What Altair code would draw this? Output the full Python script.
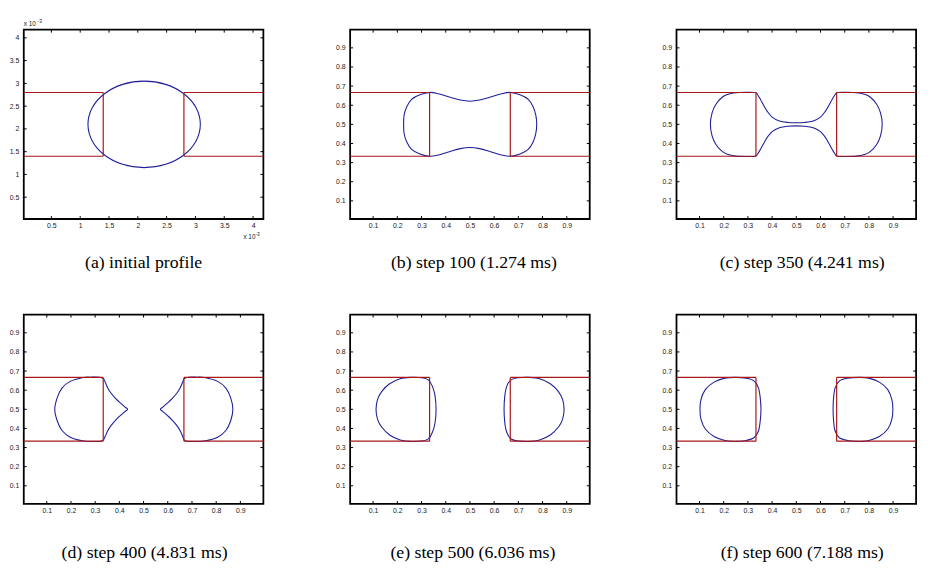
import altair as alt
import pandas as pd

BLUE = "#1f1f99"
RED = "#a81818"
LABEL_FONT = "Liberation Sans"
CAP_FONT = "Liberation Serif, DejaVu Serif, serif"

# ---------------- data ----------------
# channel walls (unit panels b-f)
wall_x = [0.0, 0.3333, 0.0, 1.0, 0.6667, 1.0]
wall_x2 = [0.3333, 0.3333, 0.3333, 0.6667, 0.6667, 0.6667]
wall_y = [0.6667, 0.6667, 0.3333, 0.6667, 0.6667, 0.3333]
wall_y2 = [0.6667, 0.3333, 0.3333, 0.6667, 0.3333, 0.3333]

# channel walls for panel (a), in units of 1e-3
a_wall_x = [0.0, 1.4, 0.0, 4.2, 2.8, 4.2]
a_wall_x2 = [1.4, 1.4, 1.4, 2.8, 2.8, 2.8]
a_wall_y = [2.8, 2.8, 1.4, 2.8, 2.8, 1.4]
a_wall_y2 = [2.8, 1.4, 1.4, 2.8, 1.4, 1.4]

unit_ticks = [0.1, 0.2, 0.3, 0.4, 0.5, 0.6, 0.7, 0.8, 0.9]
a_ticks = [0.5, 1, 1.5, 2, 2.5, 3, 3.5, 4]
unit_domain = [0.005, 0.995]
a_domain = [0.021, 4.179]

# (a) initial profile (x 1e-3)
a_x = [3.085, 3.011, 2.799, 2.483, 2.11, 1.737, 1.421, 1.209, 1.135, 1.209, 1.421, 1.737, 2.11, 2.483, 2.799, 3.011]
a_y = [2.10, 2.464, 2.772, 2.978, 3.05, 2.978, 2.772, 2.464, 2.10, 1.736, 1.428, 1.222, 1.15, 1.222, 1.428, 1.736]

# (b) step 100
b_x = [0.333, 0.293, 0.259, 0.239, 0.228, 0.226, 0.228, 0.239, 0.259, 0.293,
       0.333, 0.37, 0.415, 0.46, 0.5, 0.54, 0.585, 0.63,
       0.667, 0.707, 0.741, 0.761, 0.772, 0.776, 0.772, 0.761, 0.741, 0.707,
       0.667, 0.63, 0.585, 0.54, 0.5, 0.46, 0.415, 0.37]
b_y = [0.667, 0.655, 0.631, 0.592, 0.549, 0.5, 0.451, 0.408, 0.369, 0.345,
       0.333, 0.34, 0.357, 0.373, 0.379, 0.373, 0.357, 0.34,
       0.333, 0.345, 0.369, 0.408, 0.451, 0.5, 0.549, 0.592, 0.631, 0.655,
       0.667, 0.66, 0.643, 0.627, 0.621, 0.627, 0.643, 0.66]

# (c) step 350
c_x = [0.33, 0.29, 0.25, 0.219, 0.195, 0.168, 0.152, 0.145, 0.152, 0.168, 0.195, 0.219, 0.25, 0.29, 0.33,
       0.34, 0.352, 0.365, 0.38, 0.40, 0.43, 0.465, 0.5, 0.535, 0.57, 0.60, 0.62, 0.635, 0.648, 0.66,
       0.67, 0.71, 0.75, 0.781, 0.805, 0.832, 0.848, 0.855, 0.848, 0.832, 0.805, 0.781, 0.75, 0.71, 0.67,
       0.66, 0.648, 0.635, 0.62, 0.60, 0.57, 0.535, 0.5, 0.465, 0.43, 0.40, 0.38, 0.365, 0.352, 0.34]
c_y = [0.667, 0.668, 0.666, 0.658, 0.643, 0.605, 0.56, 0.5, 0.44, 0.395, 0.357, 0.342, 0.334, 0.332, 0.333,
       0.345, 0.370, 0.400, 0.432, 0.462, 0.482, 0.490, 0.492, 0.490, 0.482, 0.462, 0.432, 0.400, 0.370, 0.345,
       0.333, 0.332, 0.334, 0.342, 0.357, 0.395, 0.44, 0.5, 0.56, 0.605, 0.643, 0.658, 0.666, 0.668, 0.667,
       0.655, 0.630, 0.600, 0.568, 0.538, 0.518, 0.510, 0.508, 0.510, 0.518, 0.538, 0.568, 0.600, 0.630, 0.655]

# (d) step 400: two drops
d_left_x = [0.434, 0.422, 0.405, 0.385, 0.366, 0.352, 0.342, 0.334, 0.318, 0.28, 0.251, 0.197, 0.163, 0.143,
            0.133, 0.143, 0.163, 0.197, 0.251, 0.28, 0.318, 0.334, 0.342, 0.352, 0.366, 0.385, 0.405, 0.422]
d_left_y = [0.5, 0.513, 0.532, 0.556, 0.584, 0.612, 0.64, 0.66, 0.668, 0.668, 0.666, 0.646, 0.611, 0.56,
            0.5, 0.44, 0.389, 0.354, 0.334, 0.332, 0.332, 0.34, 0.36, 0.388, 0.416, 0.444, 0.468, 0.487]
d_right_x = [0.5695, 0.581, 0.598, 0.618, 0.637, 0.651, 0.661, 0.668, 0.685, 0.72, 0.752, 0.806, 0.84, 0.86,
             0.869, 0.86, 0.84, 0.806, 0.752, 0.72, 0.685, 0.668, 0.661, 0.651, 0.637, 0.618, 0.598, 0.581]
d_right_y = [0.5, 0.513, 0.532, 0.556, 0.584, 0.612, 0.64, 0.66, 0.668, 0.668, 0.666, 0.646, 0.611, 0.56,
             0.5, 0.44, 0.389, 0.354, 0.334, 0.332, 0.332, 0.34, 0.36, 0.388, 0.416, 0.444, 0.468, 0.487]

# (e) step 500
e_left_x = [0.257, 0.212, 0.168, 0.136, 0.118, 0.112, 0.118, 0.136, 0.168, 0.212, 0.257, 0.301, 0.328, 0.345,
            0.356, 0.360, 0.356, 0.345, 0.328, 0.301]
e_left_y = [0.667, 0.660, 0.634, 0.594, 0.551, 0.5, 0.449, 0.406, 0.366, 0.340, 0.332, 0.334, 0.345, 0.380,
            0.431, 0.5, 0.569, 0.620, 0.654, 0.665]
e_right_x = [0.744, 0.700, 0.670, 0.652, 0.644, 0.641, 0.644, 0.652, 0.670, 0.700, 0.744, 0.788, 0.832, 0.865,
             0.883, 0.889, 0.883, 0.865, 0.832, 0.788]
e_right_y = [0.667, 0.665, 0.654, 0.620, 0.569, 0.5, 0.431, 0.380, 0.345, 0.334, 0.332, 0.340, 0.366, 0.406,
             0.449, 0.5, 0.551, 0.594, 0.634, 0.660]

# (f) step 600
f_left_x = [0.249, 0.205, 0.160, 0.124, 0.106, 0.102, 0.106, 0.124, 0.160, 0.205, 0.249, 0.293, 0.325, 0.344,
            0.351, 0.354, 0.351, 0.344, 0.325, 0.293]
f_left_y = [0.667, 0.663, 0.642, 0.603, 0.551, 0.5, 0.449, 0.397, 0.358, 0.337, 0.332, 0.337, 0.351, 0.388,
            0.440, 0.5, 0.560, 0.611, 0.649, 0.663]
f_right_x = [0.760, 0.712, 0.678, 0.660, 0.654, 0.652, 0.654, 0.660, 0.678, 0.712, 0.760, 0.800, 0.843, 0.878,
             0.895, 0.899, 0.895, 0.878, 0.843, 0.800]
f_right_y = [0.667, 0.663, 0.649, 0.611, 0.560, 0.5, 0.440, 0.388, 0.351, 0.337, 0.332, 0.337, 0.358, 0.397,
             0.449, 0.5, 0.551, 0.603, 0.642, 0.663]

captions = ["(a) initial profile", "(b) step 100 (1.274 ms)", "(c) step 350 (4.241 ms)",
            "(d) step 400 (4.831 ms)", "(e) step 500 (6.036 ms)", "(f) step 600 (7.188 ms)"]
caption_dx = [0, 4, 6, 1, 3, 6]
caption_dy = [45, 45, 45, 50, 50, 50]

W, H = 243, 192


def curves_df(curves):
    rows = []
    for cid, (xs, ys) in enumerate(curves):
        for i, (x, y) in enumerate(zip(xs, ys)):
            rows.append({"x": x, "y": y, "id": cid, "i": i})
    return pd.DataFrame(rows)


def make_panel(curves, walls, dom, ticks, caption, cdx, cdy, exponent=False):
    sx = alt.Scale(domain=dom, nice=False, zero=False)
    sy = alt.Scale(domain=dom, nice=False, zero=False)
    common = dict(ticks=False, domain=False, grid=False, title=None, format="~g",
                  labelFont=LABEL_FONT, labelFontSize=7, labelColor="#1a1a1a",
                  labelOverlap=False, labelFlush=False, values=ticks)
    xaxis = alt.Axis(labelPadding=3, **common)
    yaxis = alt.Axis(labelPadding=5, **common)

    def X(f):
        return alt.X(f, type="quantitative", scale=sx, axis=xaxis)

    def Y(f):
        return alt.Y(f, type="quantitative", scale=sy, axis=yaxis)

    cdf = curves_df(curves)
    lines = alt.Chart(cdf).mark_line(
        interpolate="cardinal-closed", color=BLUE, strokeWidth=1.1, clip=True
    ).encode(x=X("x"), y=Y("y"), detail="id:N", order="i:Q")

    wdf = pd.DataFrame({"x": walls[0], "x2": walls[1], "y": walls[2], "y2": walls[3]})
    wl = alt.Chart(wdf).mark_rule(color=RED, strokeWidth=1.2, clip=True).encode(
        x=X("x"), x2="x2:Q", y=Y("y"), y2="y2:Q")

    tdf = pd.DataFrame({"v": ticks, "lo": [dom[0]] * len(ticks), "hi": [dom[1]] * len(ticks)})
    tk = dict(color="black", strokeWidth=1)
    t_bottom = alt.Chart(tdf).mark_rule(y2Offset=-3, **tk).encode(
        x=X("v"), y=Y("lo"), y2="lo:Q")
    t_top = alt.Chart(tdf).mark_rule(y2Offset=3, **tk).encode(
        x=X("v"), y=Y("hi"), y2="hi:Q")
    t_left = alt.Chart(tdf).mark_rule(x2Offset=3, **tk).encode(
        y=Y("v"), x=X("lo"), x2="lo:Q")
    t_right = alt.Chart(tdf).mark_rule(x2Offset=-3, **tk).encode(
        y=Y("v"), x=X("hi"), x2="hi:Q")

    mid = (dom[0] + dom[1]) / 2
    capdf = pd.DataFrame({"t": [caption], "mid": [mid], "lo": [dom[0]]})
    cap = alt.Chart(capdf).mark_text(
        font=CAP_FONT, fontSize=18, color="black", dx=cdx, dy=cdy,
        align="center", baseline="middle"
    ).encode(x=X("mid"), y=Y("lo"), text="t:N")

    layers = [lines, wl, t_bottom, t_top, t_left, t_right, cap]

    if exponent:
        edf = pd.DataFrame({"t": ["x 10"], "s": ["-3"], "lo": [dom[0]], "hi": [dom[1]]})
        e1 = alt.Chart(edf).mark_text(font=LABEL_FONT, fontSize=6.5, color="#1a1a1a", align="left",
                                      baseline="alphabetic", dx=0, dy=-4).encode(
            x=X("lo"), y=Y("hi"), text="t:N")
        e2 = alt.Chart(edf).mark_text(font=LABEL_FONT, fontSize=5, color="#1a1a1a", align="left",
                                      baseline="alphabetic", dx=14, dy=-7).encode(
            x=X("lo"), y=Y("hi"), text="s:N")
        e3 = alt.Chart(edf).mark_text(font=LABEL_FONT, fontSize=6.5, color="#1a1a1a", align="right",
                                      baseline="alphabetic", dx=-8, dy=20).encode(
            x=X("hi"), y=Y("lo"), text="t:N")
        e4 = alt.Chart(edf).mark_text(font=LABEL_FONT, fontSize=5, color="#1a1a1a", align="left",
                                      baseline="alphabetic", dx=-8, dy=17).encode(
            x=X("hi"), y=Y("lo"), text="s:N")
        layers += [e1, e2, e3, e4]

    return alt.layer(*layers).properties(width=W, height=H)


unit_walls = (wall_x, wall_x2, wall_y, wall_y2)
a_walls = (a_wall_x, a_wall_x2, a_wall_y, a_wall_y2)

panels = [
    make_panel([(a_x, a_y)], a_walls, a_domain, a_ticks, captions[0], caption_dx[0], caption_dy[0], exponent=True),
    make_panel([(b_x, b_y)], unit_walls, unit_domain, unit_ticks, captions[1], caption_dx[1], caption_dy[1]),
    make_panel([(c_x, c_y)], unit_walls, unit_domain, unit_ticks, captions[2], caption_dx[2], caption_dy[2]),
    make_panel([(d_left_x, d_left_y), (d_right_x, d_right_y)], unit_walls, unit_domain, unit_ticks,
               captions[3], caption_dx[3], caption_dy[3]),
    make_panel([(e_left_x, e_left_y), (e_right_x, e_right_y)], unit_walls, unit_domain, unit_ticks,
               captions[4], caption_dx[4], caption_dy[4]),
    make_panel([(f_left_x, f_left_y), (f_right_x, f_right_y)], unit_walls, unit_domain, unit_ticks,
               captions[5], caption_dx[5], caption_dy[5]),
]

chart = alt.concat(
    *panels, columns=3, spacing={"row": 97, "column": 88}, bounds="flush"
).properties(
    padding={"left": 0, "top": 6, "right": 5, "bottom": 5}
).configure_view(
    stroke="black", strokeWidth=1.8
)

chart.save("out.html", embed_options={"renderer": "svg", "actions": False})
